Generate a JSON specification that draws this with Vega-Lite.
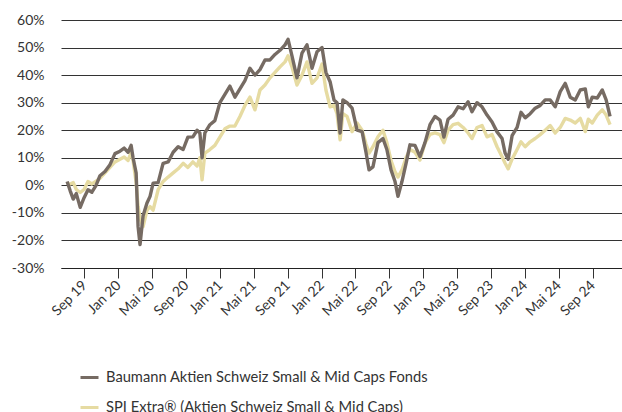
{
  "$schema": "https://vega.github.io/schema/vega-lite/v6.json",
  "width": 561,
  "height": 248,
  "autosize": {"type": "none"},
  "padding": {"left": 61, "top": 20, "right": 0, "bottom": 144},
  "background": "white",
  "config": {"view": {"stroke": null}, "font": "Lato"},
  "data": {
    "values": [
      {"date":"2019-07-01","fund":1.4,"spi":0.5},{"date":"2019-07-12","fund":-2,"spi":0.5},{"date":"2019-07-23","fund":-5,"spi":1},{"date":"2019-08-03","fund":-3,"spi":-1.5},{"date":"2019-08-17","fund":-8,"spi":-2.6},{"date":"2019-08-31","fund":-4.5,"spi":-1.5},
      {"date":"2019-09-14","fund":-1.6,"spi":1.4},{"date":"2019-09-28","fund":-2.5,"spi":0.5},{"date":"2019-10-13","fund":0,"spi":1.5},{"date":"2019-10-27","fund":3.5,"spi":2.5},{"date":"2019-11-14","fund":5,"spi":4.5},{"date":"2019-12-02","fund":7.5,"spi":6.5},
      {"date":"2019-12-20","fund":11.5,"spi":8.5},{"date":"2020-01-07","fund":12.4,"spi":9.5},{"date":"2020-01-22","fund":13.5,"spi":10.3},{"date":"2020-02-05","fund":12,"spi":9},{"date":"2020-02-16","fund":14.5,"spi":12},{"date":"2020-02-23","fund":10,"spi":9},
      {"date":"2020-03-05","fund":4.5,"spi":1},{"date":"2020-03-12","fund":-15,"spi":-7.7},{"date":"2020-03-19","fund":-21.5,"spi":-12},{"date":"2020-03-30","fund":-11,"spi":-15},{"date":"2020-04-13","fund":-6.4,"spi":-9},{"date":"2020-04-24","fund":-4,"spi":-7.7},
      {"date":"2020-05-05","fund":0.8,"spi":-9},{"date":"2020-05-23","fund":1,"spi":-1.6},{"date":"2020-06-10","fund":8,"spi":1.4},{"date":"2020-06-28","fund":8.5,"spi":3},{"date":"2020-07-16","fund":12,"spi":4.5},{"date":"2020-08-03","fund":14,"spi":6},
      {"date":"2020-08-21","fund":13,"spi":8},{"date":"2020-09-07","fund":17.5,"spi":6.5},{"date":"2020-09-25","fund":17.6,"spi":8.5},{"date":"2020-10-10","fund":20,"spi":7},{"date":"2020-10-20","fund":19,"spi":10},{"date":"2020-10-28","fund":10,"spi":2},
      {"date":"2020-11-07","fund":19,"spi":11.7},{"date":"2020-11-25","fund":22,"spi":13},{"date":"2020-12-13","fund":23.5,"spi":14.5},{"date":"2020-12-31","fund":30,"spi":17.5},{"date":"2021-01-18","fund":33,"spi":20.5},{"date":"2021-02-05","fund":36,"spi":21.5},
      {"date":"2021-02-23","fund":32,"spi":21.5},{"date":"2021-03-13","fund":35,"spi":25},{"date":"2021-03-31","fund":38,"spi":29},{"date":"2021-04-18","fund":42.5,"spi":32},{"date":"2021-05-06","fund":40,"spi":27.4},{"date":"2021-05-24","fund":42,"spi":34.6},
      {"date":"2021-06-11","fund":45.5,"spi":36.4},{"date":"2021-06-29","fund":45.5,"spi":39},{"date":"2021-07-17","fund":47.5,"spi":41},{"date":"2021-08-04","fund":49,"spi":43},{"date":"2021-08-22","fund":51,"spi":44.8},{"date":"2021-09-02","fund":53,"spi":47},
      {"date":"2021-09-16","fund":47,"spi":43},{"date":"2021-10-04","fund":39,"spi":36.4},{"date":"2021-10-22","fund":48,"spi":40},{"date":"2021-11-09","fund":51,"spi":44.8},{"date":"2021-11-27","fund":42.5,"spi":37},{"date":"2021-12-15","fund":48.5,"spi":39},
      {"date":"2022-01-02","fund":50,"spi":44},{"date":"2022-01-16","fund":41,"spi":34.6},{"date":"2022-01-31","fund":37.6,"spi":28.5},{"date":"2022-02-14","fund":31,"spi":29},{"date":"2022-02-25","fund":30,"spi":26},{"date":"2022-03-08","fund":19,"spi":16.5},
      {"date":"2022-03-18","fund":31,"spi":26},{"date":"2022-04-02","fund":30,"spi":25},{"date":"2022-04-20","fund":28,"spi":19.5},{"date":"2022-05-08","fund":20,"spi":22.6},{"date":"2022-05-26","fund":19.5,"spi":20},{"date":"2022-06-09","fund":12,"spi":15},
      {"date":"2022-06-20","fund":5.6,"spi":11.7},{"date":"2022-07-04","fund":6.7,"spi":14},{"date":"2022-07-22","fund":15.5,"spi":17.6},{"date":"2022-08-09","fund":17,"spi":20},{"date":"2022-08-23","fund":13,"spi":15.5},{"date":"2022-09-07","fund":5.6,"spi":9},
      {"date":"2022-09-21","fund":1.5,"spi":5},{"date":"2022-10-02","fund":-4,"spi":3},{"date":"2022-10-16","fund":1.3,"spi":5.5},{"date":"2022-10-31","fund":8,"spi":10},{"date":"2022-11-14","fund":14.7,"spi":13},{"date":"2022-12-02","fund":14.5,"spi":12},
      {"date":"2022-12-20","fund":10.4,"spi":9.2},{"date":"2023-01-07","fund":15.5,"spi":15.4},{"date":"2023-01-25","fund":22,"spi":18.5},{"date":"2023-02-12","fund":25,"spi":19},{"date":"2023-03-02","fund":23.7,"spi":18.4},{"date":"2023-03-16","fund":17.5,"spi":15.5},
      {"date":"2023-03-31","fund":24,"spi":20},{"date":"2023-04-18","fund":25.5,"spi":22},{"date":"2023-05-06","fund":28.5,"spi":22.5},{"date":"2023-05-24","fund":27.8,"spi":21},{"date":"2023-06-11","fund":30.3,"spi":19},{"date":"2023-06-25","fund":26.7,"spi":17},
      {"date":"2023-07-13","fund":30,"spi":21},{"date":"2023-07-31","fund":28.5,"spi":21.7},{"date":"2023-08-18","fund":25.5,"spi":17.6},{"date":"2023-09-05","fund":23,"spi":18.4},{"date":"2023-09-23","fund":19.4,"spi":14},{"date":"2023-10-11","fund":17,"spi":10.4},
      {"date":"2023-10-22","fund":11.7,"spi":8},{"date":"2023-11-02","fund":9.5,"spi":6},{"date":"2023-11-16","fund":18,"spi":9.5},{"date":"2023-12-04","fund":21,"spi":13},{"date":"2023-12-18","fund":26.5,"spi":15.8},{"date":"2024-01-02","fund":24.5,"spi":14},
      {"date":"2024-01-20","fund":26,"spi":15.8},{"date":"2024-02-07","fund":28,"spi":17},{"date":"2024-02-25","fund":29,"spi":18.4},{"date":"2024-03-14","fund":31,"spi":20},{"date":"2024-04-01","fund":31,"spi":21.7},{"date":"2024-04-19","fund":28.5,"spi":19},
      {"date":"2024-05-07","fund":34,"spi":21},{"date":"2024-05-25","fund":37,"spi":24.3},{"date":"2024-06-12","fund":32,"spi":23.7},{"date":"2024-06-30","fund":31,"spi":22.6},{"date":"2024-07-18","fund":34.6,"spi":24.3},{"date":"2024-08-05","fund":35,"spi":19.5},
      {"date":"2024-08-16","fund":28.5,"spi":24},{"date":"2024-08-30","fund":32,"spi":22.6},{"date":"2024-09-17","fund":31.7,"spi":25.5},{"date":"2024-10-05","fund":34.6,"spi":27.4},{"date":"2024-10-19","fund":31,"spi":25.5},{"date":"2024-11-02","fund":25,"spi":22}
    ]
  },
  "transform": [
    {"fold": ["spi", "fund"], "as": ["series", "value"]}
  ],
  "mark": {"type": "line", "strokeWidth": 3.4, "strokeJoin": "round"},
  "encoding": {
    "x": {
      "field": "date", "type": "temporal",
      "scale": {"type": "utc", "domain": [{"year": 2019, "month": 6, "date": 9, "utc": true}, {"year": 2024, "month": 12, "date": 15, "utc": true}]},
      "axis": {
        "title": null, "grid": false,
        "values": [
          {"year": 2019, "month": 9, "date": 1, "utc": true},
          {"year": 2020, "month": 1, "date": 1, "utc": true},
          {"year": 2020, "month": 5, "date": 1, "utc": true},
          {"year": 2020, "month": 9, "date": 1, "utc": true},
          {"year": 2021, "month": 1, "date": 1, "utc": true},
          {"year": 2021, "month": 5, "date": 1, "utc": true},
          {"year": 2021, "month": 9, "date": 1, "utc": true},
          {"year": 2022, "month": 1, "date": 1, "utc": true},
          {"year": 2022, "month": 5, "date": 1, "utc": true},
          {"year": 2022, "month": 9, "date": 1, "utc": true},
          {"year": 2023, "month": 1, "date": 1, "utc": true},
          {"year": 2023, "month": 5, "date": 1, "utc": true},
          {"year": 2023, "month": 9, "date": 1, "utc": true},
          {"year": 2024, "month": 1, "date": 1, "utc": true},
          {"year": 2024, "month": 5, "date": 1, "utc": true},
          {"year": 2024, "month": 9, "date": 1, "utc": true}
        ],
        "labelExpr": "replace(utcFormat(datum.value, '%b %y'), 'May', 'Mai')",
        "labelAngle": -45, "labelAlign": "right", "labelBaseline": "middle",
        "labelFontSize": 14, "labelColor": "#333333", "labelPadding": 5,
        "tickSize": 10, "tickColor": "#333333", "domainColor": "#222222", "domainWidth": 1,
        "labelOverlap": false, "labelFlush": false
      }
    },
    "y": {
      "field": "value", "type": "quantitative",
      "scale": {"domain": [-30, 60], "nice": false, "zero": false},
      "axis": {
        "title": null, "values": [-30, -20, -10, 0, 10, 20, 30, 40, 50, 60],
        "labelExpr": "datum.value + '%'", "ticks": false, "domain": false,
        "gridColor": "#333333", "gridWidth": 1, "gridOpacity": 1,
        "labelFontSize": 14, "labelColor": "#333333", "labelPadding": 17
      }
    },
    "color": {
      "field": "series", "type": "nominal",
      "scale": {"domain": ["fund", "spi"], "range": ["#766b63", "#e6dba2"]},
      "legend": {
        "title": null, "orient": "none", "legendX": 18, "legendY": 347, "direction": "vertical",
        "symbolType": "stroke", "symbolStrokeWidth": 3, "symbolSize": 324,
        "labelExpr": "datum.value == 'fund' ? 'Baumann Aktien Schweiz Small & Mid Caps Fonds' : 'SPI Extra® (Aktien Schweiz Small & Mid Caps)'",
        "labelFontSize": 14.7, "labelColor": "#333333", "rowPadding": 12, "padding": 0,
        "labelLimit": 500, "symbolOffset": 0, "labelOffset": 6
      }
    }
  }
}
